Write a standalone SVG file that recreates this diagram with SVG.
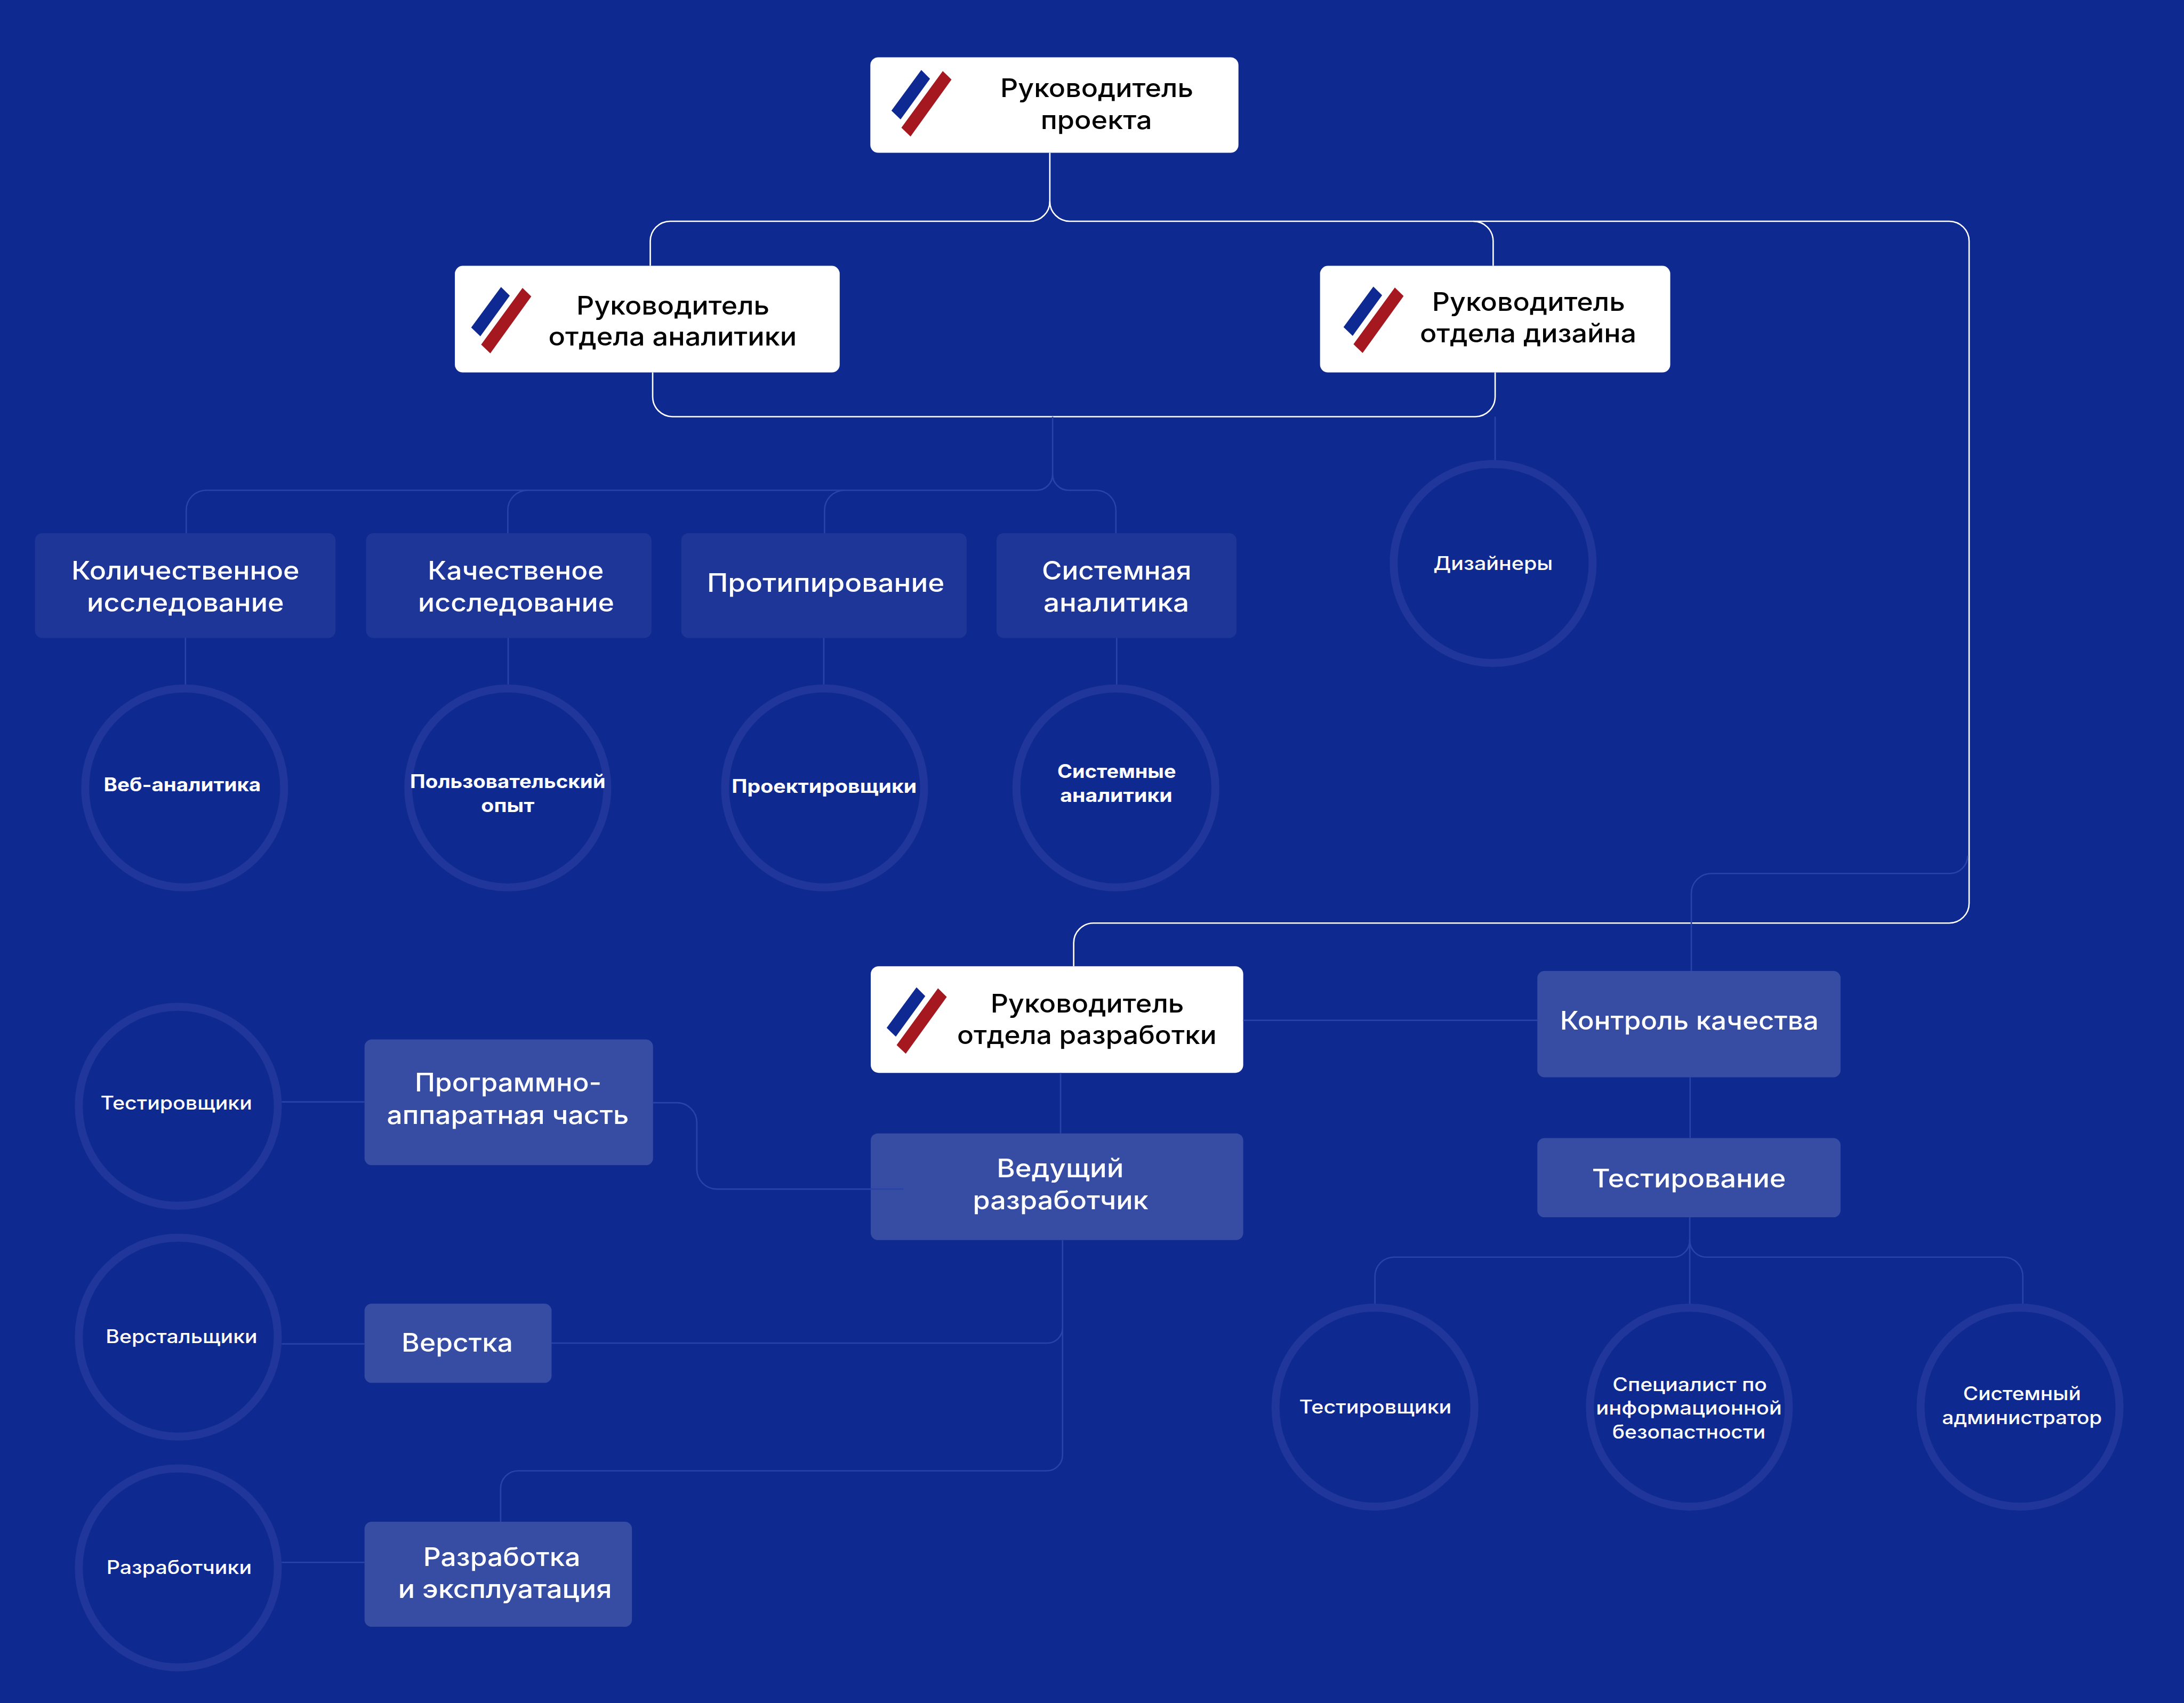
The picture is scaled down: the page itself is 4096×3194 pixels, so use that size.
<svg xmlns="http://www.w3.org/2000/svg" xmlns:xlink="http://www.w3.org/1999/xlink" width="4096" height="3194" viewBox="0 0 4096 3194">
<style>
text{font-family:Inter,"Noto Sans","Liberation Sans",sans-serif;text-anchor:middle;fill:#fff;font-weight:500}
.l{font-size:64px;font-weight:550}
.k{fill:#000}
.s{font-size:47px}
.b{font-weight:700}
.w{fill:#fff}
.d{fill:#1f3699}
.m{fill:#374ca3}
.r{fill:none;stroke:#20369a;stroke-width:20}
.cw{fill:none;stroke:#fff;stroke-width:3.5}
.cd{fill:none;stroke:#2a43a9;stroke-width:3.5}
</style>
<defs>
<g id="logo"><polygon points="0,0 22,22 -52,124 -75,102" fill="#0e2a92"/><polygon points="54,2.5 76,24 -27,167 -50,145" fill="#a51820"/></g>
</defs>
<rect width="4096" height="3194" fill="#0e2a91"/>
<g transform="scale(0.74636)">
<g id="nodes">
<g id="n-project"><rect class="w" x="2187" y="144" width="925" height="240" rx="20"/><use xlink:href="#logo" href="#logo" x="2315" y="176"/><text class="l k" x="2756" y="244" textLength="485" lengthAdjust="spacingAndGlyphs">Руководитель</text><text class="l k" x="2755" y="324" textLength="280" lengthAdjust="spacingAndGlyphs">проекта</text></g>
<g id="n-analytics"><rect class="w" x="1143" y="668" width="967" height="268" rx="20"/><use xlink:href="#logo" href="#logo" x="1259" y="721"/><text class="l k" x="1691" y="790" textLength="485" lengthAdjust="spacingAndGlyphs">Руководитель</text><text class="l k" x="1690" y="868" textLength="624" lengthAdjust="spacingAndGlyphs">отдела аналитики</text></g>
<g id="n-design"><rect class="w" x="3317" y="668" width="880" height="268" rx="20"/><use xlink:href="#logo" href="#logo" x="3451" y="720"/><text class="l k" x="3841" y="781" textLength="485" lengthAdjust="spacingAndGlyphs">Руководитель</text><text class="l k" x="3840" y="860" textLength="544" lengthAdjust="spacingAndGlyphs">отдела дизайна</text></g>
<g id="n-dev"><rect class="w" x="2188" y="2428" width="936" height="268" rx="20"/><use xlink:href="#logo" href="#logo" x="2303" y="2481"/><text class="l k" x="2732" y="2544" textLength="486" lengthAdjust="spacingAndGlyphs">Руководитель</text><text class="l k" x="2731" y="2624" textLength="652" lengthAdjust="spacingAndGlyphs">отдела разработки</text></g>

<g id="n-quant"><rect class="d" x="88" y="1340" width="755" height="263" rx="18"/><text class="l" x="466" y="1456" textLength="573" lengthAdjust="spacingAndGlyphs">Количественное</text><text class="l" x="466" y="1537" textLength="495" lengthAdjust="spacingAndGlyphs">исследование</text></g>
<g id="n-qual"><rect class="d" x="920" y="1340" width="717" height="263" rx="18"/><text class="l" x="1296" y="1456" textLength="442" lengthAdjust="spacingAndGlyphs">Качественое</text><text class="l" x="1297" y="1537" textLength="493" lengthAdjust="spacingAndGlyphs">исследование</text></g>
<g id="n-proto"><rect class="d" x="1712" y="1340" width="717" height="263" rx="18"/><text class="l" x="2075" y="1487" textLength="597" lengthAdjust="spacingAndGlyphs">Протипирование</text></g>
<g id="n-sysan"><rect class="d" x="2504" y="1340" width="603" height="263" rx="18"/><text class="l" x="2806" y="1456" textLength="376" lengthAdjust="spacingAndGlyphs">Системная</text><text class="l" x="2805" y="1537" textLength="366" lengthAdjust="spacingAndGlyphs">аналитика</text></g>

<g id="n-designers"><circle class="r" cx="3752" cy="1416" r="250"/><text class="s" x="3752" y="1432" textLength="300" lengthAdjust="spacingAndGlyphs">Дизайнеры</text></g>
<g id="n-web"><circle class="r" cx="464" cy="1980" r="250"/><text class="s b" x="458" y="1988" textLength="395" lengthAdjust="spacingAndGlyphs">Веб-аналитика</text></g>
<g id="n-ux"><circle class="r" cx="1276" cy="1980" r="250"/><text class="s b" x="1276" y="1980" textLength="491" lengthAdjust="spacingAndGlyphs">Пользовательский</text><text class="s b" x="1276" y="2040" textLength="134" lengthAdjust="spacingAndGlyphs">опыт</text></g>
<g id="n-arch"><circle class="r" cx="2072" cy="1980" r="250"/><text class="s b" x="2071" y="1992" textLength="465" lengthAdjust="spacingAndGlyphs">Проектировщики</text></g>
<g id="n-sysanalysts"><circle class="r" cx="2804" cy="1980" r="250"/><text class="s b" x="2806" y="1955" textLength="298" lengthAdjust="spacingAndGlyphs">Системные</text><text class="s b" x="2805" y="2015" textLength="282" lengthAdjust="spacingAndGlyphs">аналитики</text></g>

<g id="n-hw"><rect class="m" x="916" y="2612" width="725" height="316" rx="18"/><text class="l" x="1277" y="2743" textLength="469" lengthAdjust="spacingAndGlyphs">Программно-</text><text class="l" x="1276" y="2824" textLength="608" lengthAdjust="spacingAndGlyphs">аппаратная часть</text></g>
<g id="n-layout"><rect class="m" x="916" y="3276" width="470" height="199" rx="18"/><text class="l" x="1149" y="3396" textLength="280" lengthAdjust="spacingAndGlyphs">Верстка</text></g>
<g id="n-devops"><rect class="m" x="916" y="3824" width="672" height="264" rx="18"/><text class="l" x="1261" y="3935" textLength="395" lengthAdjust="spacingAndGlyphs">Разработка</text><text class="l" x="1269" y="4015" textLength="537" lengthAdjust="spacingAndGlyphs">и эксплуатация</text></g>
<g id="n-lead"><rect class="m" x="2188" y="2848" width="936" height="268" rx="18"/><text class="l" x="2664" y="2959" textLength="319" lengthAdjust="spacingAndGlyphs">Ведущий</text><text class="l" x="2665" y="3039" textLength="441" lengthAdjust="spacingAndGlyphs">разработчик</text></g>
<g id="n-qa"><rect class="m" x="3863" y="2440" width="762" height="267" rx="18"/><text class="l" x="4245" y="2587" textLength="650" lengthAdjust="spacingAndGlyphs">Контроль качества</text></g>
<g id="n-test"><rect class="m" x="3863" y="2860" width="762" height="199" rx="18"/><text class="l" x="4244" y="2984" textLength="487" lengthAdjust="spacingAndGlyphs">Тестирование</text></g>

<g id="n-testers-l"><circle class="r" cx="448" cy="2780" r="250"/><text class="s" x="443" y="2788" textLength="381" lengthAdjust="spacingAndGlyphs">Тестировщики</text></g>
<g id="n-coders"><circle class="r" cx="448" cy="3360" r="250"/><text class="s" x="456" y="3375" textLength="381" lengthAdjust="spacingAndGlyphs">Верстальщики</text></g>
<g id="n-devs"><circle class="r" cx="448" cy="3940" r="250"/><text class="s" x="450" y="3955" textLength="365" lengthAdjust="spacingAndGlyphs">Разработчики</text></g>
<g id="n-testers-r"><circle class="r" cx="3455" cy="3536" r="250"/><text class="s" x="3456" y="3552" textLength="383" lengthAdjust="spacingAndGlyphs">Тестировщики</text></g>
<g id="n-sec"><circle class="r" cx="4245" cy="3536" r="250"/><text class="s" x="4246" y="3496" textLength="388" lengthAdjust="spacingAndGlyphs">Специалист по</text><text class="s" x="4244" y="3555" textLength="467" lengthAdjust="spacingAndGlyphs">информационной</text><text class="s" x="4244" y="3615" textLength="385" lengthAdjust="spacingAndGlyphs">безопастности</text></g>
<g id="n-admin"><circle class="r" cx="5076" cy="3536" r="250"/><text class="s" x="5081" y="3519" textLength="296" lengthAdjust="spacingAndGlyphs">Системный</text><text class="s" x="5081" y="3579" textLength="402" lengthAdjust="spacingAndGlyphs">администратор</text></g>
</g>
<g id="connectors">
<path class="cw" d="M2638 384V506A50 50 0 0 1 2588 556H1684A50 50 0 0 0 1634 606V668"/>
<path class="cw" d="M2638 506A50 50 0 0 0 2688 556H4898A50 50 0 0 1 4948 606V2269A50 50 0 0 1 4898 2319.500H2748A50 50 0 0 0 2698 2370V2428"/>
<path class="cw" d="M3702 556A50 50 0 0 1 3752 606V668"/>
<path class="cw" d="M1640 936V997A50 50 0 0 0 1690 1047H3707A50 50 0 0 0 3757 997V936"/>
<path class="cd" d="M2645 1047V1192A40 40 0 0 1 2605 1232H518A50 50 0 0 0 468 1282V1340"/>
<path class="cd" d="M2645 1192A40 40 0 0 0 2685 1232H2754A50 50 0 0 1 2804 1282V1340"/>
<path class="cd" d="M1276 1340V1282A50 50 0 0 1 1326 1232"/>
<path class="cd" d="M2072 1340V1282A50 50 0 0 1 2122 1232"/>
<path class="cd" d="M3757 1047V1156"/>
<path class="cd" d="M466 1603V1720"/>
<path class="cd" d="M1277 1603V1720"/>
<path class="cd" d="M2070 1603V1720"/>
<path class="cd" d="M2806 1603V1720"/>
<path class="cd" d="M4944.500 2150A45 45 0 0 1 4899.500 2195H4300A50 50 0 0 0 4250 2245V2440"/>
<path class="cd" d="M3124 2564H3863"/>
<path class="cd" d="M4247 2707V2860"/>
<path class="cd" d="M4246 3059V3276"/>
<path class="cd" d="M4246 3117A42 42 0 0 1 4204 3159H3503A48 48 0 0 0 3455 3207V3276"/>
<path class="cd" d="M4246 3117A42 42 0 0 0 4288 3159H5035A48 48 0 0 1 5083 3207V3276"/>
<path class="cd" d="M2665 2696V2848"/>
<path class="cd" d="M1641 2771H1701A50 50 0 0 1 1751 2821V2938A50 50 0 0 0 1801 2988H2270"/>
<path class="cd" d="M708 2769H916"/>
<path class="cd" d="M708 3377H916"/>
<path class="cd" d="M708 3926H916"/>
<path class="cd" d="M2670 3116V3656A40 40 0 0 1 2630 3696H1302A44 44 0 0 0 1258 3740V3824"/>
<path class="cd" d="M1386 3375H2632A38 38 0 0 0 2670 3337"/>
</g>
</g>
</svg>
